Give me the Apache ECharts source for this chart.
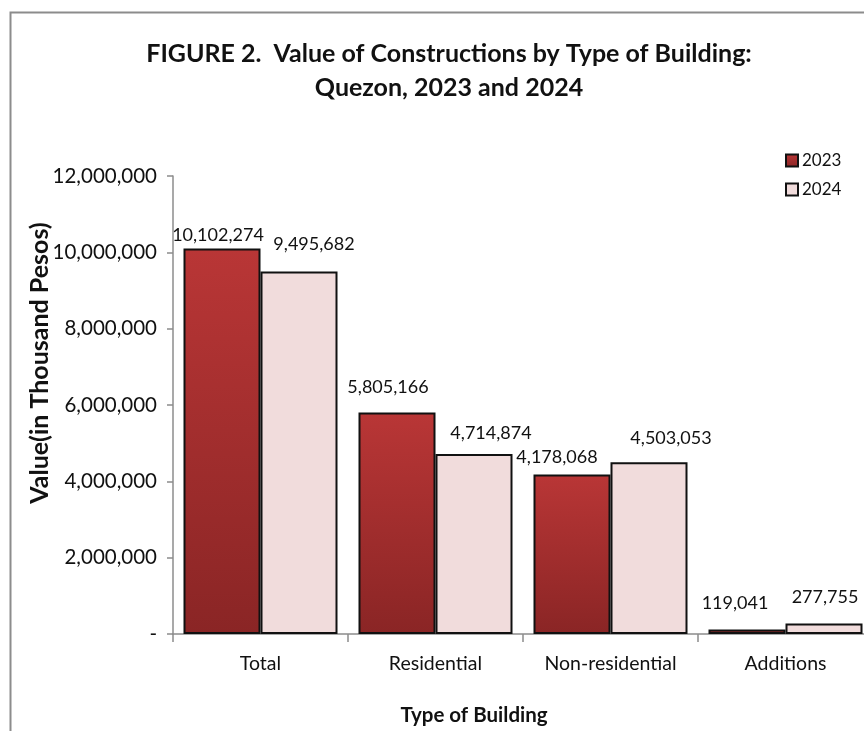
<!DOCTYPE html>
<html>
<head>
<meta charset="utf-8">
<script src="https://cdn.jsdelivr.net/npm/echarts@6/dist/echarts.min.js"></script>
<style>
  html, body { margin: 0; padding: 0; background: #fff; }
  #chart { width: 864px; height: 731px; }
</style>
</head>
<body>
<div id="chart"></div>
<script>
// data
const categories = ['Total', 'Residential', 'Non-residential', 'Additions']
const seriesNames = ['2023', '2024']
const values2023 = [10102274, 5805166, 4178068, 119041]
const values2024 = [9495682, 4714874, 4503053, 277755]
const yTicks = [0, 2000000, 4000000, 6000000, 8000000, 10000000, 12000000]

// label nudges (px), mirrors where the original placed its value labels
const labelShift2023 = [[-4, 1], [-9, -11], [-15, -3], [-12, -12]]
const labelShift2024 = [[15, -13], [17, -7], [22, -10], [1, -12]]

const FONT = 'Lato, "Open Sans", sans-serif'

const fmt = (v) => (v === 0 ? '-' : v.toLocaleString('en-US'))

function buildData(values, shifts) {
  return values.map((v, i) => ({
    value: v,
    label: { offset: shifts[i] },
  }))
}

const chart = echarts.init(document.getElementById('chart'))

const red = new echarts.graphic.LinearGradient(0, 0, 0, 1, [
  { offset: 0, color: '#b93636' },
  { offset: 1, color: '#8a2525' },
])

const labelStyle = {
  show: true,
  position: 'top',
  distance: 5,
  fontFamily: FONT,
  fontSize: 18,
  color: '#111',
  formatter: (p) => fmt(p.value),
}

const option = {
  animation: false,
  backgroundColor: '#fff',
  title: {
    text: 'FIGURE 2.  Value of Constructions by Type of Building:\nQuezon, 2023 and 2024',
    left: 444,
    top: 32,
    textAlign: 'center',
    textStyle: {
      fontFamily: FONT,
      fontWeight: 'bold',
      fontSize: 25,
      lineHeight: 34,
      color: '#111',
    },
  },
  legend: {
    orient: 'vertical',
    left: 780,
    top: 147,
    itemWidth: 12,
    itemHeight: 12,
    itemGap: 12,
    icon: 'rect',
    textStyle: { fontFamily: FONT, fontSize: 17, color: '#111', padding: [0, 0, 0, -1] },
    data: seriesNames,
  },
  grid: {
    left: 173,
    top: 176,
    width: 700,
    bottom: 97,
    outerBoundsMode: 'none',
    containLabel: false,
  },
  xAxis: {
    type: 'category',
    data: categories,
    axisLine: { lineStyle: { color: '#8c8c8c', width: 1.5 } },
    axisTick: { show: true, length: 8, lineStyle: { color: '#8c8c8c', width: 1.5 } },
    axisLabel: { margin: 20, fontFamily: FONT, fontSize: 19.5, color: '#111' },
  },
  yAxis: {
    type: 'value',
    min: yTicks[0],
    max: yTicks[yTicks.length - 1],
    interval: yTicks[1] - yTicks[0],
    splitLine: { show: false },
    axisLine: { show: true, lineStyle: { color: '#8c8c8c', width: 1.5 } },
    axisTick: { show: true, length: 6, lineStyle: { color: '#8c8c8c', width: 1.5 } },
    axisLabel: {
      margin: 16,
      fontFamily: FONT,
      fontSize: 20.5,
      color: '#111',
      formatter: fmt,
    },
  },
  graphic: [
    {
      type: 'rect',
      left: 8,
      top: 10,
      shape: { width: 900, height: 800 },
      style: { fill: 'none', stroke: '#8c8c8c', lineWidth: 2 },
      silent: true,
    },
    {
      type: 'text',
      x: 40,
      y: 363,
      rotation: Math.PI / 2,
      style: {
        text: 'Value(in Thousand Pesos)',
        align: 'center',
        verticalAlign: 'middle',
        fontFamily: FONT,
        fontWeight: 'bold',
        fontSize: 25,
        fill: '#111',
      },
    },
    {
      type: 'text',
      x: 474,
      y: 715,
      style: {
        text: 'Type of Building',
        align: 'center',
        verticalAlign: 'middle',
        fontFamily: FONT,
        fontWeight: 'bold',
        fontSize: 20.5,
        fill: '#111',
      },
    },
  ],
  series: [
    {
      name: seriesNames[0],
      type: 'bar',
      barGap: '0%',
      barCategoryGap: '12%',
      data: buildData(values2023, labelShift2023),
      itemStyle: { color: red, borderColor: '#111', borderWidth: 2 },
      label: labelStyle,
    },
    {
      name: seriesNames[1],
      type: 'bar',
      barGap: '0%',
      barCategoryGap: '12%',
      data: buildData(values2024, labelShift2024),
      itemStyle: { color: '#f1dcdc', borderColor: '#111', borderWidth: 2 },
      label: labelStyle,
    },
  ],
}

chart.setOption(option)
</script>
</body>
</html>
